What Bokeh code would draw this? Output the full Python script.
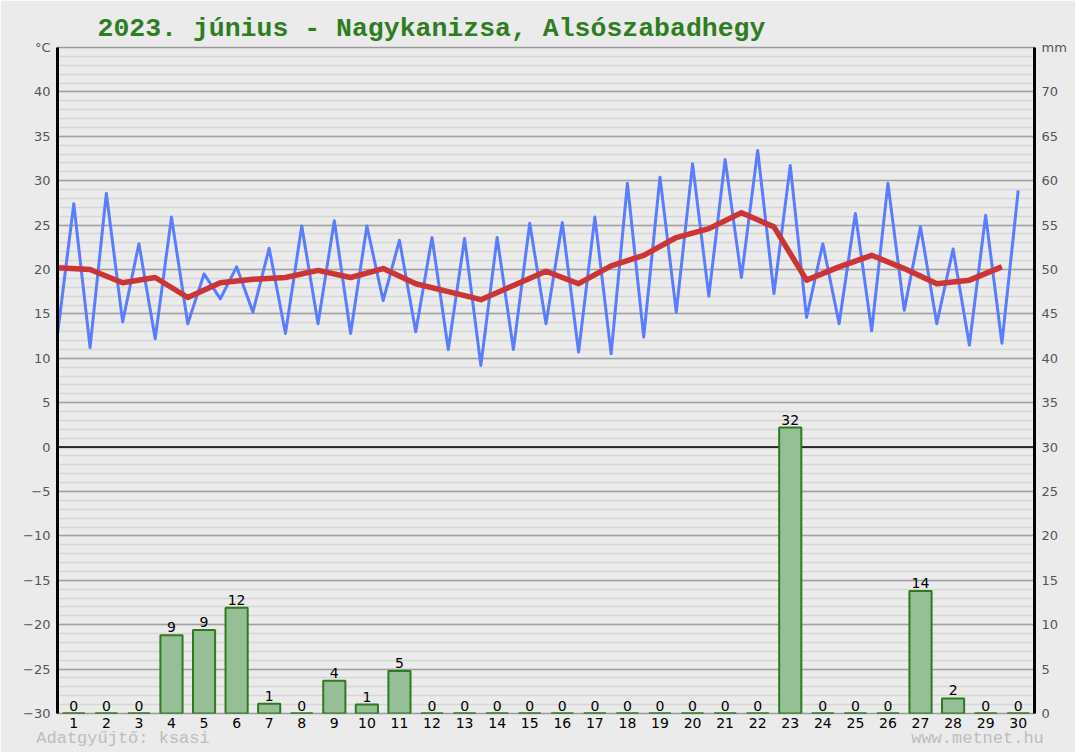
from bokeh.plotting import figure
from bokeh.models import LinearAxis, Range1d, FixedTicker, Span
from bokeh.core.properties import value
from bokeh.embed import file_html
from bokeh.resources import INLINE

# ---- data ----
days = list(range(1, 31))
# daily minimum (drawn half a day before the day's tick) and maximum temperature, °C
tmin = [12.7, 11.2, 14.1, 12.2, 13.9, 16.7, 15.2, 12.8, 13.9, 12.8,
        16.5, 13.0, 11.0, 9.2, 11.0, 13.9, 10.7, 10.5, 12.4, 15.2,
        17.0, 19.1, 17.3, 14.6, 13.9, 13.1, 15.4, 13.9, 11.5, 11.7]
tmax = [27.4, 28.6, 22.9, 25.9, 19.5, 20.3, 22.4, 24.9, 25.5, 24.9,
        23.3, 23.6, 23.5, 23.6, 25.2, 25.3, 25.9, 29.7, 30.4, 31.9,
        32.4, 33.4, 31.7, 22.9, 26.3, 29.7, 24.8, 22.3, 26.1, 28.9]
# daily mean temperature, °C
tmean = [20.2, 20.0, 18.5, 19.1, 16.85, 18.5, 18.9, 19.1, 19.9, 19.1,
         20.1, 18.4, 17.5, 16.6, 18.2, 19.8, 18.4, 20.4, 21.6, 23.6,
         24.6, 26.4, 24.8, 18.8, 20.3, 21.6, 20.1, 18.4, 18.8, 20.3]
# daily precipitation, mm
precip = [0, 0, 0, 8.8, 9.4, 11.9, 1.1, 0, 3.7, 1.0,
          4.8, 0, 0, 0, 0, 0, 0, 0, 0, 0,
          0, 0, 32.2, 0, 0, 0, 13.8, 1.7, 0, 0]
precip_labels = [str(int(round(v))) for v in precip]
temp_ticks = list(range(-30, 46, 5))
mm_ticks = list(range(0, 76, 5))
temp_unit = "°C"
mm_unit = "mm"
title_text = "2023. június - Nagykanizsa, Alsószabadhegy"
footer_left = "Adatgyűjtő: ksasi"
footer_right = "www.metnet.hu"

BG = "#ebebeb"
p = figure(width=1075, height=752, x_range=Range1d(0.5, 30.5), y_range=Range1d(-30, 45),
           output_backend="svg", toolbar_location=None,
           min_border_left=57, min_border_right=41, min_border_top=47, min_border_bottom=39,
           background_fill_color=BG, border_fill_color=BG)
p.extra_y_ranges = {"mm": Range1d(0, 75)}
p.extra_x_ranges = {"foot": Range1d(0, 977)}
p.outline_line_color = "#9a9a9a"
p.outline_line_width = 1.5

# title
p.title.text = title_text
p.title.align = "left"
p.title.offset = 40
p.title.standoff = 7
p.title.text_font = "Liberation Mono"
p.title.text_font_style = "bold"
p.title.text_font_size = "26.5px"
p.title.text_color = "#2e7d1f"

# grid
p.xgrid.visible = False
p.ygrid.ticker = FixedTicker(ticks=list(range(-30, 46, 5)), minor_ticks=list(range(-30, 46, 1)))
p.ygrid.grid_line_color = "#a0a0a0"
p.ygrid.grid_line_width = 1.6
p.ygrid.minor_grid_line_color = "#d6d6d6"
p.ygrid.minor_grid_line_width = 1.5


def no_ticks(ax):
    ax.major_tick_line_color = None
    ax.minor_tick_line_color = None
    ax.major_tick_out = 0
    ax.major_tick_in = 0
    ax.minor_tick_out = 0
    ax.minor_tick_in = 0


def style_y(ax):
    ax.axis_line_width = 3
    ax.axis_line_color = "black"
    no_ticks(ax)
    ax.major_label_text_font = "DejaVu Sans"
    ax.major_label_text_font_size = "13px"
    ax.major_label_text_color = "#555555"
    ax.major_label_standoff = 7


ya = p.yaxis[0]
ya.ticker = FixedTicker(ticks=temp_ticks)
ya.major_label_overrides = {temp_ticks[-1]: temp_unit}
style_y(ya)
ra = LinearAxis(y_range_name="mm", ticker=FixedTicker(ticks=mm_ticks))
ra.major_label_overrides = {mm_ticks[-1]: mm_unit}
style_y(ra)
p.add_layout(ra, "right")

xa = p.xaxis[0]
xa.ticker = FixedTicker(ticks=days)
xa.axis_line_color = None
no_ticks(xa)
xa.major_label_text_font = "DejaVu Sans"
xa.major_label_text_font_size = "14px"
xa.major_label_text_color = "black"
xa.major_label_standoff = 4

# footer as a second bottom axis
fa = LinearAxis(x_range_name="foot", ticker=FixedTicker(ticks=[65.5, 920]))
fa.major_label_overrides = {65.5: footer_left, 920: footer_right}
fa.axis_line_color = None
no_ticks(fa)
fa.major_label_text_font = "Liberation Mono"
fa.major_label_text_font_size = "17px"
fa.major_label_text_color = "#bdbdbd"
fa.major_label_standoff = -2
p.add_layout(fa, "below")

# zero line
p.add_layout(Span(location=0, dimension="width", line_color="black", line_width=1.5, level="underlay"))

# precipitation bars
bw = 0.68
p.segment(x0=[d - bw / 2 for d in days], x1=[d + bw / 2 for d in days],
          y0=[0] * len(days), y1=[0] * len(days),
          y_range_name="mm", line_color="#3a8a2a", line_width=2)
p.vbar(x=days, top=precip, bottom=0, width=bw, y_range_name="mm",
       fill_color="#97bf97", line_color="#2d7a1f", line_width=2)
p.text(x=days, y=precip, text=precip_labels, y_range_name="mm",
       text_align="center", text_baseline="bottom", y_offset=-3,
       text_font=value("DejaVu Sans"), text_font_size="14px", text_color="black")

# temperature lines
xb, yb = [], []
for d, lo, hi in zip(days, tmin, tmax):
    xb += [d - 0.5, d]
    yb += [lo, hi]
p.line(xb, yb, line_color="#5b7cff", line_width=3, line_join="round")
p.line([d - 0.5 for d in days], tmean, line_color="#cc3535", line_width=5.5, line_join="round")

open("out.html", "w").write(file_html(p, INLINE))
